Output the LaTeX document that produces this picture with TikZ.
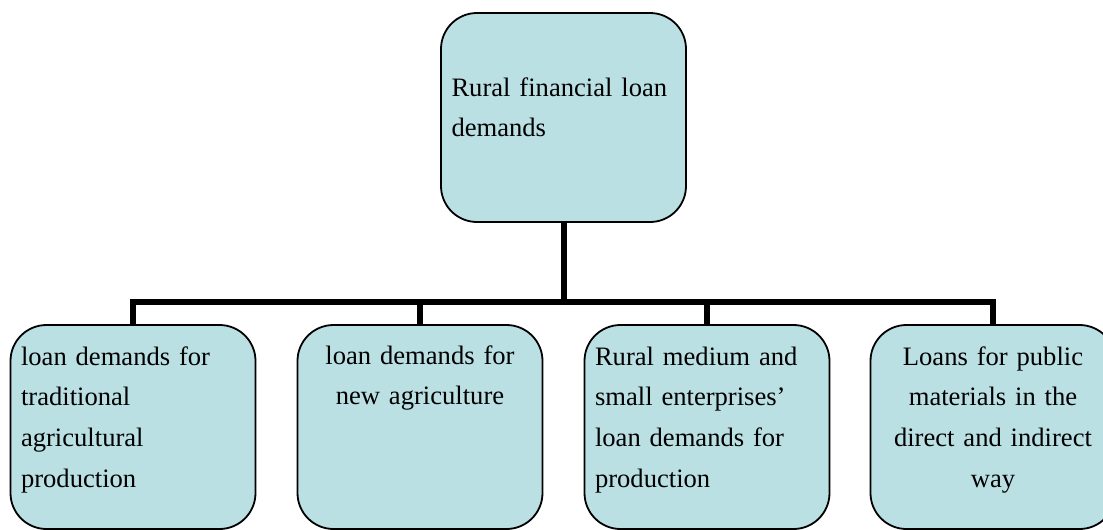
\documentclass[tikz,border=0pt]{standalone}
\usepackage{fontspec}
\setmainfont{Liberation Serif}
\usepackage{tikz}
\usetikzlibrary{positioning}
\definecolor{boxfill}{RGB}{186,224,227}

\begin{document}
\begin{tikzpicture}[x=0.5pt, y=-0.5pt,
    demand/.style={draw=black, line width=0.9pt, fill=boxfill, rounded corners=18pt,
        minimum width=122.5pt, minimum height=102pt, inner sep=0pt},
    demtext/.style={inner sep=0pt, text width=115pt, align=left,
        font=\fontsize{13.3}{20.35}\selectfont},
    link/.style={line width=3pt}]
                % Frame
                \useasboundingbox (0,0) rectangle (1103,530);
                \clip (0,0) rectangle (1103,530);

                % Top box
                \node[demand, minimum height=104.5pt] (root) at (563.5,117.5) {};
                \node[demtext, anchor=base west] (rootlabel) at ([shift={(11,84)}]root.north west)
                    {Rural financial loan\\demands};

                % Bottom boxes
                \node[demand] (trad) at (133,427) {};
                \node[demand] (newagr) at (420,427) {};
                \node[demand] (firms) at (707,427) {};
                \node[demand] (public) at (993,427) {};

                \node[demtext, anchor=base west] (tradlabel) at ([shift={(11,41)}]trad.north west)
                    {loan demands for\\traditional\\agricultural\\production};
                \node[demtext, align=center, anchor=base] (newagrlabel) at ([shift={(0,40)}]newagr.north)
                    {loan demands for\\new agriculture};
                \node[demtext, anchor=base west] (firmslabel) at ([shift={(11,41)}]firms.north west)
                    {Rural medium and\\small enterprises’\\loan demands for\\production};
                \node[demtext, align=center, anchor=base] (publiclabel) at ([shift={(0,41)}]public.north)
                    {Loans for public\\materials in the\\direct and indirect\\way};

                % Connectors
                \coordinate (split) at ([shift={(0,79)}]root.south);
                \draw[link] (root.south) -- (split);
                \foreach \d in {trad,newagr,firms,public}
                    \draw[link] (split) -| (\d.north);
\end{tikzpicture}
\end{document}
